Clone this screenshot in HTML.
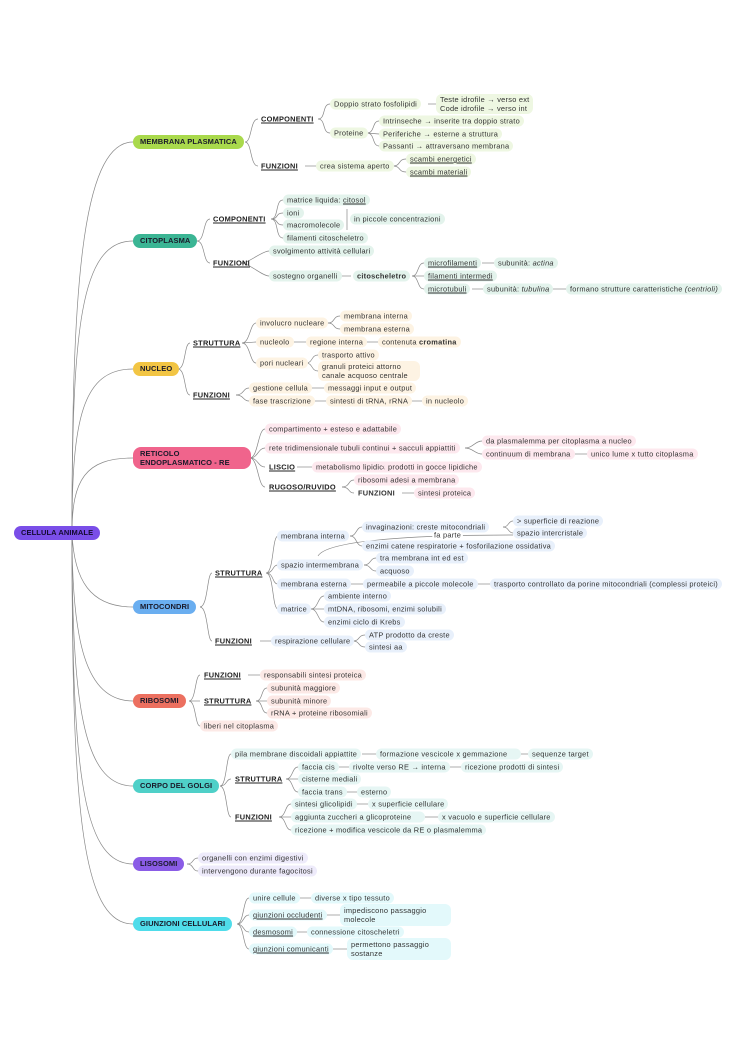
<!DOCTYPE html>
<html><head><meta charset="utf-8"><style>
body{margin:0;width:744px;height:1053px;background:#fff;position:relative;overflow:hidden;font-family:"Liberation Sans",sans-serif}
svg{position:absolute;left:0;top:0}
.n{position:absolute;font-size:7.4px;letter-spacing:0.25px;color:#333;padding:1px 4px;border-radius:6px;transform:translateY(-50%);white-space:nowrap;line-height:9px}
.b{font-weight:bold;text-decoration:underline;color:#222}
.u{text-decoration:underline}
.p{position:absolute;font-size:7.5px;font-weight:bold;color:#1a1a2a;border-radius:8px;transform:translateY(-50%);white-space:nowrap;padding:0 7px;height:14px;line-height:14px;letter-spacing:0.1px}
.g{background:#eef7e2}.c{background:#e3f3ec}.y{background:#fdf3e3}.r{background:#fde8ee}.m{background:#e8f0fb}.s{background:#fce9e6}.t{background:#e6f6f4}.l{background:#eeebfb}.j{background:#e3f9fb}
</style></head><body>
<svg width="744" height="1053" fill="none" stroke="#888" stroke-width="0.7">
<path d="M72 533 C72 300,80 142,133 142"/>
<path d="M72 533 C72 330,80 241,133 241"/>
<path d="M72 533 C72 420,82 369,133 369"/>
<path d="M72 533 C72 480,85 458,133 458"/>
<path d="M72 533 C74 580,90 607,133 607"/>
<path d="M72 533 C72 640,85 701,133 701"/>
<path d="M72 533 C72 700,82 786,133 786"/>
<path d="M72 533 C72 760,80 864,133 864"/>
<path d="M72 533 C72 800,80 924,133 924"/>
<path d="M245 142 C252 142,250 119,258 119"/><path d="M245 142 C252 142,250 166,258 166"/>
<path d="M318 119 C326 119,322 104,330 104"/><path d="M318 119 C326 119,322 133,330 133"/>
<path d="M428 104 L436 104"/>
<path d="M367 133 C375 133,372 121,379 121"/><path d="M367 133 L379 134"/><path d="M367 133 C375 133,372 146,379 146"/>
<path d="M305 166 L316 166"/>
<path d="M393 166 C401 166,398 159,406 159"/><path d="M393 166 C401 166,398 172,406 172"/>
<path d="M197 241 C205 241,203 219,210 219"/><path d="M197 241 C205 241,203 263,210 263"/>
<path d="M271 219 C279 219,275 200,283 200"/><path d="M271 219 C279 219,275 213,283 213"/><path d="M271 219 C279 219,275 225,283 225"/><path d="M271 219 C279 219,275 238,283 238"/>
<path d="M347 209 L347 230"/>
<path d="M241 263 C249 263,262 251,269 251"/><path d="M241 263 C249 263,262 276,269 276"/>
<path d="M337 276 L351 276"/>
<path d="M412 276 C419 276,417 263,424 263"/><path d="M412 276 L424 276"/><path d="M412 276 C419 276,417 289,424 289"/>
<path d="M482 263 L494 263"/><path d="M472 289 L483 289"/><path d="M553 289 L566 289"/>
<path d="M178 369 C186 369,184 343,190 343"/><path d="M178 369 C186 369,184 395,190 395"/>
<path d="M242 343 C250 343,250 323,256 323"/><path d="M242 343 L256 342"/><path d="M242 343 C250 343,250 363,256 363"/>
<path d="M328 323 C335 323,333 316,340 316"/><path d="M328 323 C335 323,333 329,340 329"/>
<path d="M293 342 L306 342"/><path d="M365 342 L378 342"/>
<path d="M306 363 C313 363,311 355,318 355"/><path d="M306 363 C313 363,311 371,318 371"/>
<path d="M236 395 C244 395,243 388,249 388"/><path d="M236 395 C244 395,243 401,249 401"/>
<path d="M312 388 L324 388"/><path d="M314 401 L326 401"/><path d="M410 401 L422 401"/>
<path d="M250 458 C258 458,258 429,265 429"/><path d="M250 458 C258 458,258 448,265 448"/><path d="M250 458 C258 458,258 467,265 467"/><path d="M250 458 C258 458,258 487,265 487"/>
<path d="M465 448 C473 448,475 441,482 441"/><path d="M465 448 C473 448,475 454,482 454"/>
<path d="M575 454 L587 454"/>
<path d="M297 467 L312 467"/><path d="M370 467 L384 467"/>
<path d="M342 487 C350 487,348 480,354 480"/><path d="M342 487 C350 487,348 493,354 493"/>
<path d="M402 493 L414 493"/>
<path d="M200 607 C208 607,207 573,212 573"/><path d="M200 607 C208 607,207 641,212 641"/>
<path d="M266 573 C274 573,272 536,278 536"/><path d="M266 573 C274 573,272 565,278 565"/><path d="M266 573 C274 573,272 584,278 584"/><path d="M266 573 C274 573,272 609,278 609"/>
<path d="M350 536 C357 536,356 527,362 527"/><path d="M350 536 C357 536,356 546,362 546"/>
<path d="M503 527 C509 527,508 521,513 521"/><path d="M503 527 C509 527,508 533,513 533"/>
<path d="M513 535 C480 535,330 535,318 556"/>
<path d="M364 565 C371 565,370 558,376 558"/><path d="M364 565 C371 565,370 571,376 571"/>
<path d="M351 584 L363 584"/><path d="M476 584 L490 584"/>
<path d="M311 609 C318 609,318 596,324 596"/><path d="M311 609 L324 609"/><path d="M311 609 C318 609,318 622,324 622"/>
<path d="M260 641 L271 641"/>
<path d="M353 641 C360 641,358 635,365 635"/><path d="M353 641 C360 641,358 647,365 647"/>
<path d="M189 701 C196 701,195 675,200 675"/><path d="M189 701 L200 701"/><path d="M189 701 C196 701,195 726,200 726"/>
<path d="M248 675 L260 675"/>
<path d="M256 701 C263 701,261 688,267 688"/><path d="M256 701 L267 701"/><path d="M256 701 C263 701,261 713,267 713"/>
<path d="M220 786 C227 786,226 754,231 754"/><path d="M220 786 C227 786,226 779,231 779"/><path d="M220 786 C227 786,226 817,231 817"/>
<path d="M362 754 L376 754"/><path d="M515 754 L528 754"/>
<path d="M286 779 C293 779,292 767,298 767"/><path d="M286 779 L298 779"/><path d="M286 779 C293 779,292 792,298 792"/>
<path d="M337 767 L349 767"/><path d="M448 767 L461 767"/><path d="M345 792 L357 792"/>
<path d="M279 817 C286 817,285 804,291 804"/><path d="M279 817 L291 817"/><path d="M279 817 C286 817,285 830,291 830"/>
<path d="M356 804 L368 804"/><path d="M425 817 L438 817"/>
<path d="M187 864 C194 864,192 858,198 858"/><path d="M187 864 C194 864,192 871,198 871"/>
<path d="M237 924 C244 924,243 898,249 898"/><path d="M237 924 C244 924,243 915,249 915"/><path d="M237 924 C244 924,243 932,249 932"/><path d="M237 924 C244 924,243 949,249 949"/>
<path d="M298 898 L311 898"/><path d="M327 915 L340 915"/><path d="M297 932 L307 932"/><path d="M333 949 L347 949"/>
</svg>

<div class="p" style="left:14px;top:533px;background:#7a4ee8;color:#140a30">CELLULA ANIMALE</div>
<div class="p" style="left:133px;top:142px;background:#a9d94c">MEMBRANA PLASMATICA</div>
<div class="p" style="left:133px;top:241px;background:#3bb594">CITOPLASMA</div>
<div class="p" style="left:133px;top:369px;background:#f2c544">NUCLEO</div>
<div class="p" style="left:133px;top:458px;background:#f0648c;height:22px;line-height:9px;padding-top:2px;padding-bottom:0;box-sizing:border-box;width:118px">RETICOLO<br>ENDOPLASMATICO - RE</div>
<div class="p" style="left:133px;top:607px;background:#6aaef0">MITOCONDRI</div>
<div class="p" style="left:133px;top:701px;background:#ec7060">RIBOSOMI</div>
<div class="p" style="left:133px;top:786px;background:#4fd0c8">CORPO DEL GOLGI</div>
<div class="p" style="left:133px;top:864px;background:#8a5ce6">LISOSOMI</div>
<div class="p" style="left:133px;top:924px;background:#4fdcea">GIUNZIONI CELLULARI</div>

<div class="n b" style="left:257px;top:119px">COMPONENTI</div>
<div class="n b" style="left:257px;top:166px">FUNZIONI</div>
<div class="n g" style="left:330px;top:104px">Doppio strato fosfolipidi</div>
<div class="n g" style="left:436px;top:104px">Teste idrofile → verso ext<br>Code idrofile → verso int</div>
<div class="n g" style="left:330px;top:133px">Proteine</div>
<div class="n g" style="left:379px;top:121px">Intrinseche → inserite tra doppio strato</div>
<div class="n g" style="left:379px;top:134px">Periferiche → esterne a struttura</div>
<div class="n g" style="left:379px;top:146px">Passanti → attraversano membrana</div>
<div class="n g" style="left:316px;top:166px">crea sistema aperto</div>
<div class="n g u" style="left:406px;top:159px">scambi energetici</div>
<div class="n g u" style="left:406px;top:172px">scambi materiali</div>

<div class="n b" style="left:209px;top:219px">COMPONENTI</div>
<div class="n b" style="left:209px;top:263px">FUNZIONI</div>
<div class="n c" style="left:283px;top:200px">matrice liquida: <span class="u">citosol</span></div>
<div class="n c" style="left:283px;top:213px">ioni</div>
<div class="n c" style="left:283px;top:225px">macromolecole</div>
<div class="n c" style="left:350px;top:219px">in piccole concentrazioni</div>
<div class="n c" style="left:283px;top:238px">filamenti citoscheletro</div>
<div class="n c" style="left:269px;top:251px">svolgimento attività cellulari</div>
<div class="n c" style="left:269px;top:276px">sostegno organelli</div>
<div class="n c" style="left:353px;top:276px;font-weight:bold">citoscheletro</div>
<div class="n c u" style="left:424px;top:263px">microfilamenti</div>
<div class="n c" style="left:494px;top:263px">subunità: <i>actina</i></div>
<div class="n c u" style="left:424px;top:276px">filamenti intermedi</div>
<div class="n c u" style="left:424px;top:289px">microtubuli</div>
<div class="n c" style="left:483px;top:289px">subunità: <i>tubulina</i></div>
<div class="n c" style="left:566px;top:289px">formano strutture caratteristiche <i>(centrioli)</i></div>

<div class="n b" style="left:189px;top:343px">STRUTTURA</div>
<div class="n b" style="left:189px;top:395px">FUNZIONI</div>
<div class="n y" style="left:256px;top:323px">involucro nucleare</div>
<div class="n y" style="left:340px;top:316px">membrana interna</div>
<div class="n y" style="left:340px;top:329px">membrana esterna</div>
<div class="n y" style="left:256px;top:342px">nucleolo</div>
<div class="n y" style="left:306px;top:342px">regione interna</div>
<div class="n y" style="left:378px;top:342px">contenuta <b>cromatina</b></div>
<div class="n y" style="left:256px;top:363px">pori nucleari</div>
<div class="n y" style="left:318px;top:355px">trasporto attivo</div>
<div class="n y" style="left:318px;top:371px;padding-right:12px">granuli proteici attorno<br>canale acquoso centrale</div>
<div class="n y" style="left:249px;top:388px">gestione cellula</div>
<div class="n y" style="left:324px;top:388px">messaggi input e output</div>
<div class="n y" style="left:249px;top:401px">fase trascrizione</div>
<div class="n y" style="left:326px;top:401px">sintesti di tRNA, rRNA</div>
<div class="n y" style="left:422px;top:401px">in nucleolo</div>

<div class="n r" style="left:265px;top:429px">compartimento + esteso e adattabile</div>
<div class="n r" style="left:265px;top:448px">rete tridimensionale tubuli continui + sacculi appiattiti</div>
<div class="n r" style="left:482px;top:441px">da plasmalemma per citoplasma a nucleo</div>
<div class="n r" style="left:482px;top:454px">continuum di membrana</div>
<div class="n r" style="left:587px;top:454px">unico lume x tutto citoplasma</div>
<div class="n b" style="left:265px;top:467px">LISCIO</div>
<div class="n r" style="left:312px;top:467px">metabolismo lipidico</div>
<div class="n r" style="left:384px;top:467px">prodotti in gocce lipidiche</div>
<div class="n b" style="left:265px;top:487px">RUGOSO/RUVIDO</div>
<div class="n r" style="left:354px;top:480px">ribosomi adesi a membrana</div>
<div class="n" style="left:354px;top:493px;font-weight:bold">FUNZIONI</div>
<div class="n r" style="left:414px;top:493px">sintesi proteica</div>

<div class="n b" style="left:211px;top:573px">STRUTTURA</div>
<div class="n b" style="left:211px;top:641px">FUNZIONI</div>
<div class="n m" style="left:277px;top:536px">membrana interna</div>
<div class="n m" style="left:362px;top:527px">invaginazioni: creste mitocondriali</div>
<div class="n m" style="left:513px;top:521px">&gt; superficie di reazione</div>
<div class="n m" style="left:513px;top:533px">spazio intercristale</div>
<div class="n" style="left:432px;top:535px;padding:0 2px;background:#fff">fa parte</div>
<div class="n m" style="left:362px;top:546px">enzimi catene respiratorie + fosforilazione ossidativa</div>
<div class="n m" style="left:277px;top:565px">spazio intermembrana</div>
<div class="n m" style="left:376px;top:558px">tra membrana int ed est</div>
<div class="n m" style="left:376px;top:571px">acquoso</div>
<div class="n m" style="left:277px;top:584px">membrana esterna</div>
<div class="n m" style="left:363px;top:584px">permeabile a piccole molecole</div>
<div class="n m" style="left:490px;top:584px">trasporto controllato da porine mitocondriali (complessi proteici)</div>
<div class="n m" style="left:277px;top:609px">matrice</div>
<div class="n m" style="left:324px;top:596px">ambiente interno</div>
<div class="n m" style="left:324px;top:609px">mtDNA, ribosomi, enzimi solubili</div>
<div class="n m" style="left:324px;top:622px">enzimi ciclo di Krebs</div>
<div class="n m" style="left:271px;top:641px">respirazione cellulare</div>
<div class="n m" style="left:365px;top:635px">ATP prodotto da creste</div>
<div class="n m" style="left:365px;top:647px">sintesi aa</div>

<div class="n b" style="left:200px;top:675px">FUNZIONI</div>
<div class="n s" style="left:260px;top:675px">responsabili sintesi proteica</div>
<div class="n b" style="left:200px;top:701px">STRUTTURA</div>
<div class="n s" style="left:267px;top:688px">subunità maggiore</div>
<div class="n s" style="left:267px;top:701px">subunità minore</div>
<div class="n s" style="left:267px;top:713px">rRNA + proteine ribosomiali</div>
<div class="n s" style="left:200px;top:726px">liberi nel citoplasma</div>

<div class="n t" style="left:231px;top:754px">pila membrane discoidali appiattite</div>
<div class="n t" style="left:376px;top:754px;padding-right:14px">formazione vescicole x gemmazione</div>
<div class="n t" style="left:528px;top:754px">sequenze target</div>
<div class="n b" style="left:231px;top:779px">STRUTTURA</div>
<div class="n t" style="left:298px;top:767px">faccia cis</div>
<div class="n t" style="left:349px;top:767px">rivolte verso RE → interna</div>
<div class="n t" style="left:461px;top:767px">ricezione prodotti di sintesi</div>
<div class="n t" style="left:298px;top:779px">cisterne mediali</div>
<div class="n t" style="left:298px;top:792px">faccia trans</div>
<div class="n t" style="left:357px;top:792px">esterno</div>
<div class="n b" style="left:231px;top:817px">FUNZIONI</div>
<div class="n t" style="left:291px;top:804px">sintesi glicolipidi</div>
<div class="n t" style="left:368px;top:804px">x superficie cellulare</div>
<div class="n t" style="left:291px;top:817px;padding-right:14px">aggiunta zuccheri a glicoproteine</div>
<div class="n t" style="left:438px;top:817px">x vacuolo e superficie cellulare</div>
<div class="n t" style="left:291px;top:830px">ricezione + modifica vescicole da RE o plasmalemma</div>

<div class="n l" style="left:198px;top:858px">organelli con enzimi digestivi</div>
<div class="n l" style="left:198px;top:871px">intervengono durante fagocitosi</div>

<div class="n j" style="left:249px;top:898px">unire cellule</div>
<div class="n j" style="left:311px;top:898px">diverse x tipo tessuto</div>
<div class="n j u" style="left:249px;top:915px">giunzioni occludenti</div>
<div class="n j" style="left:340px;top:915px;padding-right:24px;padding-top:2px;padding-bottom:2px">impediscono passaggio<br>molecole</div>
<div class="n j u" style="left:249px;top:932px">desmosomi</div>
<div class="n j" style="left:307px;top:932px">connessione citoscheletri</div>
<div class="n j u" style="left:249px;top:949px">giunzioni comunicanti</div>
<div class="n j" style="left:347px;top:949px;padding-right:22px;padding-top:2px;padding-bottom:2px">permettono passaggio<br>sostanze</div>
</body></html>
